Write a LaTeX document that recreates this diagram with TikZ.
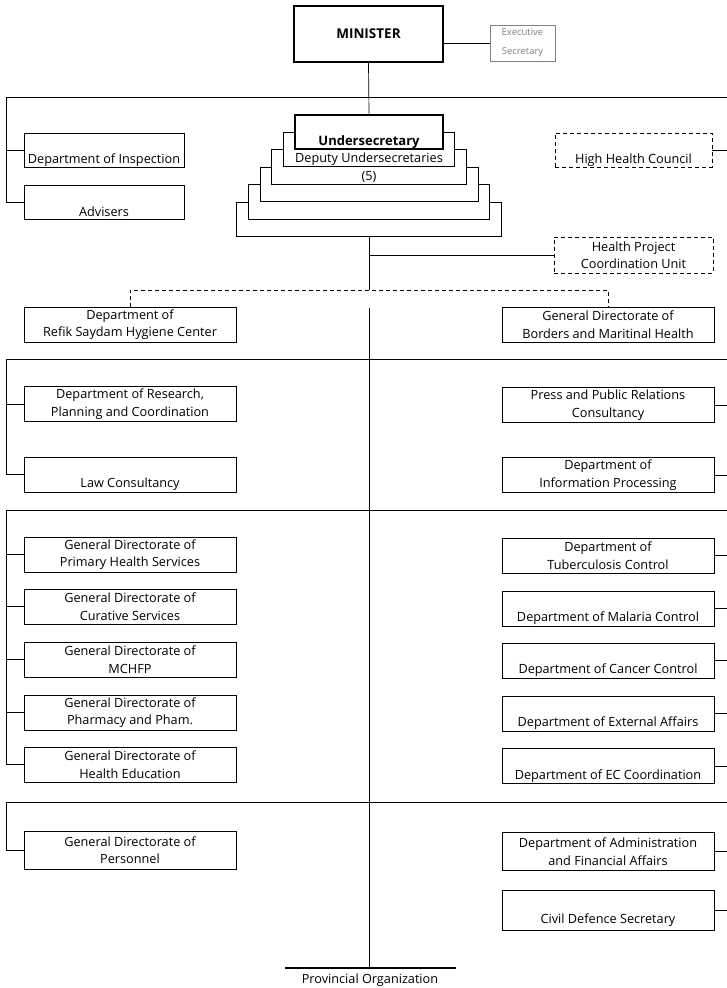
\documentclass[tikz,border=0pt]{standalone}
\usepackage{fontspec}
\setmainfont{Open Sans}
\usepackage{tikz}
\usetikzlibrary{
    calc,
    positioning
}
\tikzset{
    box/.style={draw, rectangle, minimum width=212pt, minimum height=35pt, inner sep=0pt, align=center, line width=0.7pt, fill=white, font=\fontsize{12.7}{17.5}\selectfont},
    topbox/.style={box, minimum width=160pt, minimum height=34pt},
    dbox/.style={box, dash pattern=on 4pt off 3pt},
    stackbox/.style={box, minimum height=34.5pt},
    heavy/.style={line width=2.2pt},
    wire/.style={line width=0.7pt}
}

\begin{document}
\begin{tikzpicture}[x=1pt, y=-1pt]
                                \useasboundingbox (0, 0) rectangle (727, 988);
                                \node[box, heavy, minimum width=149pt, minimum height=56pt, font=\fontsize{13.5}{17}\selectfont\bfseries] (min) at (368.5, 34) {MINISTER};
                                \node[box, draw=gray, minimum width=65pt, minimum height=36pt, text=gray, font=\fontsize{9.5}{19}\selectfont] (exsec) at (522.5, 43) {Executive\\Secretary};
                                \node[stackbox, minimum width=265pt] (dep5) at (369, 219.5) {};
                                \node[stackbox, minimum width=241.6pt] (dep4) at (369, 202) {};
                                \node[stackbox, minimum width=218.2pt] (dep3) at (369, 184.5) {};
                                \node[stackbox, minimum width=194.8pt] (dep2) at (369, 167) {\strut\\(5)};
                                \node[stackbox, minimum width=171.4pt] (dep1) at (369, 149.5) {\strut\\Deputy Undersecretaries};
                                \node[stackbox, heavy, minimum width=148pt, font=\fontsize{13}{17.5}\selectfont\bfseries] (usec) at (369, 132) {\strut\\Undersecretary};
                                \node[topbox] (insp) at (104, 150) {\strut\\Department of Inspection};
                                \node[topbox] (adv) at (104, 202) {\strut\\Advisers};
                                \node[dbox, minimum width=157pt, minimum height=34pt] (hhc) at (633.5, 150) {\strut\\High Health Council};
                                \node[dbox, minimum width=159pt, minimum height=36pt] (hpcu) at (633.5, 255) {Health Project\\Coordination Unit};
                                \node[box] (rsh) at (130, 324.5) {Department of\\Refik Saydam Hygiene Center};
                                \node[box] (bmh) at (608, 324.5) {General Directorate of\\Borders and Maritinal Health};
                                \node[box] (rpc) at (130, 404) {Department of Research,\\Planning and Coordination};
                                \node[box] (law) at (130, 474.5) {\strut\\Law Consultancy};
                                \node[box] (prc) at (608, 405) {Press and Public Relations\\Consultancy};
                                \node[box] (inf) at (608, 475) {Department of\\Information Processing};
                                \node[box] (phs) at (130, 554.5) {General Directorate of\\Primary Health Services};
                                \node[box] (cur) at (130, 606.5) {General Directorate of\\Curative Services};
                                \node[box] (mch) at (130, 659.5) {General Directorate of\\MCHFP};
                                \node[box] (pha) at (130, 712.5) {General Directorate of\\Pharmacy and Pham.};
                                \node[box] (hed) at (130, 764.5) {General Directorate of\\Health Education};
                                \node[box] (tbc) at (608, 555.5) {Department of\\Tuberculosis Control};
                                \node[box] (mal) at (608, 608.5) {\strut\\Department of Malaria Control};
                                \node[box] (can) at (608, 660.5) {\strut\\Department of Cancer Control};
                                \node[box] (ext) at (608, 713.5) {\strut\\Department of External Affairs};
                                \node[box] (ecc) at (608, 766) {\strut\\Department of EC Coordination};
                                \node[box, minimum height=38pt] (per) at (130, 850) {General Directorate of\\Personnel};
                                \node[box, minimum height=38pt] (adm) at (608, 851.5) {Department of Administration\\and Financial Affairs};
                                \node[box, minimum height=40pt] (cds) at (608, 910) {\strut\\Civil Defence Secretary};
                                \node[font=\fontsize{12.7}{17}\selectfont] (prov) at (370, 980) {Provincial Organization};
                                \coordinate (l1) at (6, 97);
                                \coordinate (r1) at (728, 97);
                                \coordinate (l2) at (6, 359);
                                \coordinate (r2) at (728, 359);
                                \coordinate (l3) at (6, 510);
                                \coordinate (r3) at (728, 510);
                                \coordinate (l4) at (6, 802);
                                \coordinate (r4) at (728, 802);
                                \coordinate (c1) at (369, 290);
                                \coordinate (c2) at (369, 308);
                                \coordinate (p1) at (285, 968);
                                \coordinate (p2) at (456, 968);
                                \draw[wire] (min.south) -- (usec.north);
                                \draw[wire] (exsec.west) -- (exsec.west -| min.east);
                                \draw[wire] (l1) -- (r1) (l2) -- (r2) (l3) -- (r3) (l4) -- (r4);
                                \draw[wire] (dep5.south) -- (c1);
                                \draw[wire] (dep5.south |- hpcu.west) -- (hpcu.west);
                                \draw[wire, dash pattern=on 4pt off 3pt] (rsh.north) |- (bmh.north |- c1) -- (bmh.north);
                                \draw[wire] (c2) -- (c2 |- p1);
                                \draw[heavy] (p1) -- (p2);
                                \draw[wire]
                                (l1) |- (insp.west)
                                (l1) |- (adv.west)
                                (r1) |- (hhc.east)
                                (l2) |- (rpc.west)
                                (l2) |- (law.west)
                                (r2) |- (prc.east)
                                (r2) |- (inf.east)
                                (l3) |- (phs.west)
                                (l3) |- (cur.west)
                                (l3) |- (mch.west)
                                (l3) |- (pha.west)
                                (l3) |- (hed.west)
                                (r3) |- (tbc.east)
                                (r3) |- (mal.east)
                                (r3) |- (can.east)
                                (r3) |- (ext.east)
                                (r3) |- (ecc.east)
                                (l4) |- (per.west)
                                (r4) |- (adm.east)
                                (r4) |- (cds.east);
                            \end{tikzpicture}
\end{document}
